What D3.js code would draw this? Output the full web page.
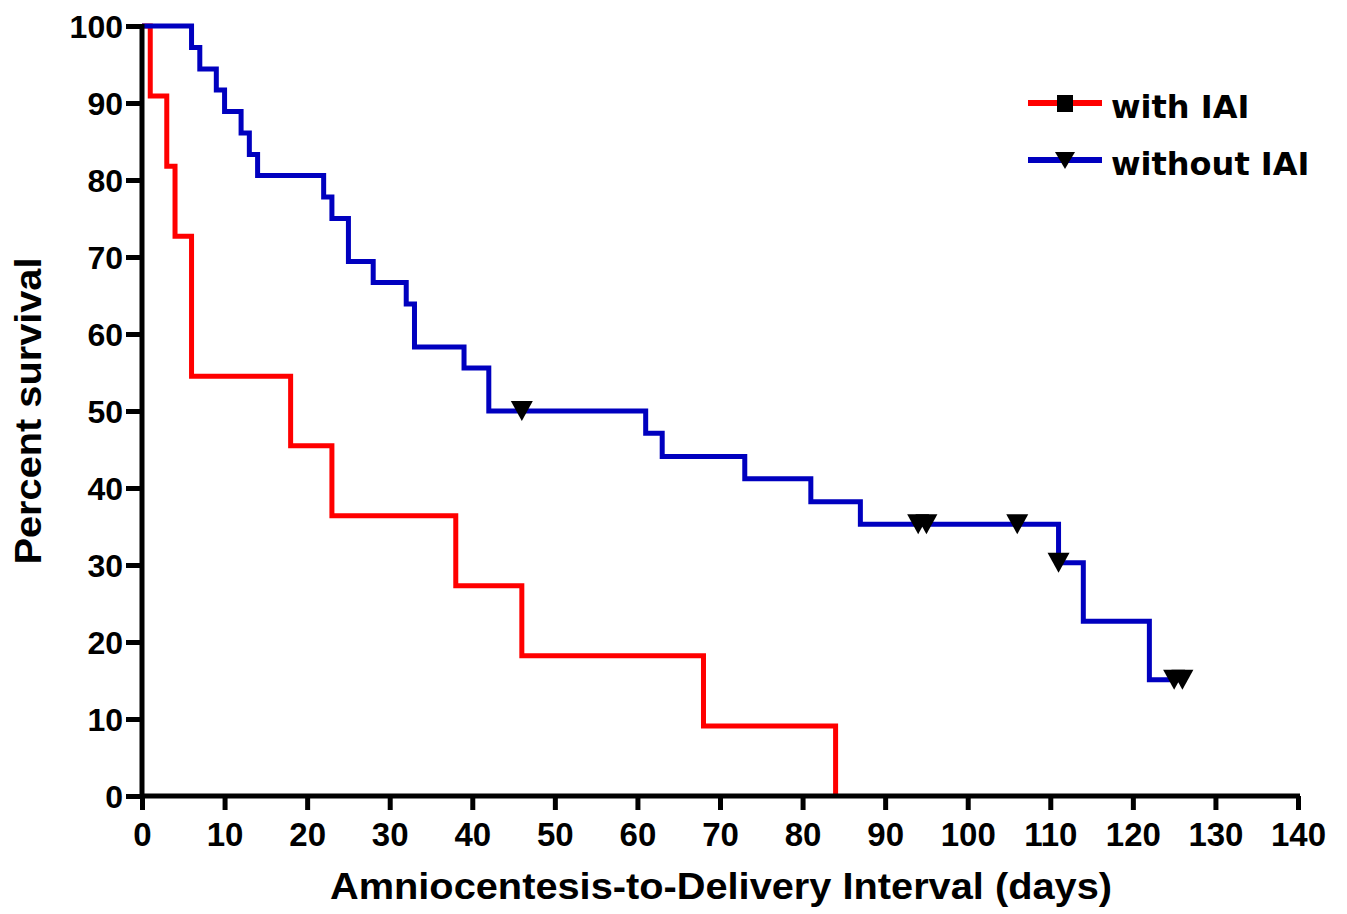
<!DOCTYPE html>
<html>
<head>
<meta charset="utf-8">
<script src="https://d3js.org/d3.v7.min.js"></script>
<style>
  body { margin: 0; background: #fff; }
  svg { display: block; }
  .axis path, .axis line { stroke: #000; stroke-width: 5; }
  .axis text { fill: #000; font-family: "Liberation Sans", Arial, sans-serif; font-weight: bold; }
</style>
</head>
<body>
<svg id="chart"></svg>
<script>

// ******************* Data ********************************* //
// with IAI - time of each step (days) and survival after it (%)
var withDays     = [0, 1, 3, 4, 6, 18, 23, 38, 46, 68, 84];
var withSurvival = [100, 90.9, 81.8, 72.7, 54.5, 45.5, 36.4, 27.3, 18.2, 9.1, 0];

// without IAI
var withoutDays     = [0, 6, 7, 9, 10, 12, 13, 14, 22, 23, 25, 28, 32, 33, 39, 42, 61, 63, 73, 81, 87, 111, 114, 122, 126];
var withoutSurvival = [100, 97.2, 94.4, 91.7, 88.9, 86.1, 83.3, 80.6, 77.8, 75.0, 69.4, 66.7, 63.9, 58.3, 55.6, 50.0, 47.1, 44.1, 41.2, 38.2, 35.3, 30.3, 22.7, 15.1, 15.1];

// censored points (without IAI)
var censorDays     = [46, 94, 95, 106, 111, 125, 126];
var censorSurvival = [50.0, 35.3, 35.3, 35.3, 30.3, 15.1, 15.1];

var xTicks = [0, 10, 20, 30, 40, 50, 60, 70, 80, 90, 100, 110, 120, 130, 140];
var yTicks = [0, 10, 20, 30, 40, 50, 60, 70, 80, 90, 100];

var seriesNames = ["with IAI", "without IAI"];
var seriesColors = ["#ff0000", "#0000bf"];

// ******** Chart Set Up ************
var width = 1347;
var height = 914;

var svg = d3.select("#chart")
  .attr("width", width)
  .attr("height", height);

var xScale = d3.scaleLinear()
  .domain([0, 140])
  .range([142, 1298]);

var yScale = d3.scaleLinear()
  .domain([0, 100])
  .range([796, 26]);

var line = d3.line()
  .x(d => xScale(d[0]))
  .y(d => yScale(d[1]))
  .curve(d3.curveStepAfter);

var withData = withDays.map((d, i) => [d, withSurvival[i]]);
var withoutData = withoutDays.map((d, i) => [d, withoutSurvival[i]]);
var censorData = censorDays.map((d, i) => [d, censorSurvival[i]]);

var downTriangle = "M-11,-10L11,-10L0,10Z";

// survival curves
svg.append("path")
  .datum(withData)
  .attr("d", line)
  .attr("fill", "none")
  .attr("stroke", seriesColors[0])
  .attr("stroke-width", 5);

svg.append("path")
  .datum(withoutData)
  .attr("d", line)
  .attr("fill", "none")
  .attr("stroke", seriesColors[1])
  .attr("stroke-width", 5);

svg.selectAll(".censor")
  .data(censorData)
  .enter()
  .append("path")
    .classed("censor", true)
    .attr("d", downTriangle)
    .attr("transform", d => "translate(" + xScale(d[0]) + "," + yScale(d[1]) + ")")
    .attr("fill", "#000");

// axes
var yAxis = svg.append("g")
  .classed("axis", true)
  .attr("transform", "translate(" + xScale(0) + ",0)")
  .call(d3.axisLeft(yScale)
    .tickValues(yTicks)
    .tickSize(16)
    .tickSizeOuter(0)
    .tickPadding(3));

yAxis.selectAll("text")
  .style("font-size", "32px")
  .attr("dy", "0.36em");

var xAxis = svg.append("g")
  .classed("axis", true)
  .attr("transform", "translate(0," + yScale(0) + ")")
  .call(d3.axisBottom(xScale)
    .tickValues(xTicks)
    .tickSize(14)
    .tickSizeOuter(0)
    .tickPadding(13));

xAxis.selectAll("text")
  .style("font-size", "33px");

// extend axis lines a little past the ends, like the original
yAxis.select(".domain").attr("d", "M0," + (yScale(0) + 2) + "V" + (yScale(100) - 2));
xAxis.select(".domain").attr("d", "M" + (xScale(0) - 2) + ",0H" + (xScale(140) + 2));

// axis titles
svg.append("text")
  .attr("x", 721)
  .attr("y", 899)
  .attr("text-anchor", "middle")
  .attr("textLength", 782)
  .attr("lengthAdjust", "spacingAndGlyphs")
  .style("font-family", "'Liberation Sans', Arial, sans-serif")
  .style("font-weight", "bold")
  .style("font-size", "37px")
  .text("Amniocentesis-to-Delivery Interval (days)");

svg.append("text")
  .attr("transform", "translate(41,411) rotate(-90)")
  .attr("text-anchor", "middle")
  .attr("textLength", 307)
  .attr("lengthAdjust", "spacingAndGlyphs")
  .style("font-family", "'Liberation Sans', Arial, sans-serif")
  .style("font-weight", "bold")
  .style("font-size", "36px")
  .text("Percent survival");

// legend
var legend = svg.append("g")
  .attr("transform", "translate(1028,103)");

seriesNames.forEach(function(name, i) {
  var row = legend.append("g")
    .attr("transform", "translate(0," + (i * 57) + ")");

  row.append("line")
    .attr("x1", 0)
    .attr("x2", 74)
    .attr("stroke", seriesColors[i])
    .attr("stroke-width", 6);

  if (i === 0) {
    row.append("rect")
      .attr("x", 29)
      .attr("y", -8)
      .attr("width", 16)
      .attr("height", 17)
      .attr("fill", "#000");
  } else {
    row.append("path")
      .attr("d", "M-10,-8L10,-8L0,9Z")
      .attr("transform", "translate(37,0)")
      .attr("fill", "#000");
  }

  row.append("text")
    .attr("x", 83)
    .attr("y", 15)
    .style("font-family", "'DejaVu Sans', sans-serif")
    .style("font-weight", "bold")
    .style("font-size", "32px")
    .text(name);
});

</script>
</body>
</html>
